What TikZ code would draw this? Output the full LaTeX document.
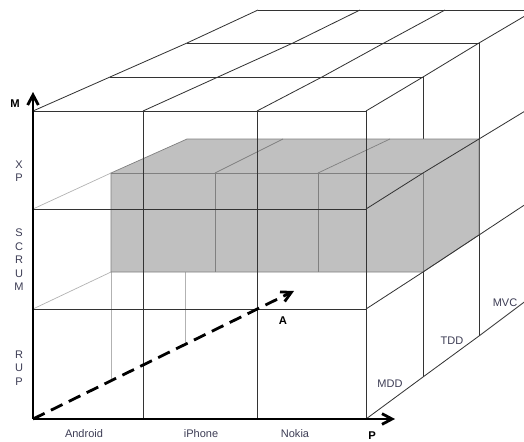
\documentclass[tikz,border=0pt]{standalone}
\usepackage{fontspec}
\setmainfont{Liberation Sans}
\usetikzlibrary{arrows.meta,positioning,calc}
\definecolor{slabgray}{RGB}{192,192,192}
\definecolor{labelgray}{RGB}{60,60,84}

\begin{document}
\begin{tikzpicture}[x=0.03cm,y=-0.03cm,
  grid/.style={black!80,line width=0.7pt},
  faint/.style={black!30,line width=0.6pt},
  slabline/.style={black!50,line width=0.6pt},
  axis/.style={line width=2.4pt,-{Straight Barb[length=3mm,width=3.2mm]}},
  lbl/.style={font=\fontsize{9.4}{11.5}\selectfont,text=labelgray,inner sep=0pt,align=center},
  axlbl/.style={font=\fontsize{9.6}{11.5}\selectfont\bfseries,inner sep=0pt}]
\useasboundingbox (0,0) rectangle (524,441);
\clip (0,0) rectangle (524,441);

\coordinate (O) at (33,419);
\coordinate (Mtop) at (33,92);
\coordinate (Pend) at (395,419);
\coordinate (Atip) at (294,291);

% top face
\draw[grid] (110,77) -- (423,77);
\draw[grid] (187,43) -- (479,43);
\draw[grid] (258,10) -- (535,10);
\draw[grid] (33,111) -- (110,77) -- (187,43) -- (258,10);
\draw[grid] (143,111) -- (218,77) -- (293,43) -- (360,10);
\draw[grid] (257,111) -- (322,77) -- (384,43) -- (445,10);
\draw[grid] (366,111) -- (423,77) -- (479,43) -- (535,10);

% right face
\draw[grid] (423,77) -- (423,377);
\draw[grid] (479,43) -- (479,336);
\draw[grid] (535,10) -- (535,294);

% faint lines behind the slab
\draw[faint] (33,209) -- (111,173);
\draw[faint] (33,309) -- (111,272);
\draw[faint] (111,272) -- (111,380);
\draw[faint] (185,272) -- (185,343);

% gray slab
\draw[slabline,fill=slabgray] (111,173) -- (187,139) -- (479,139) -- (479,235)
  -- (423,272) -- (111,272) -- cycle;
\draw[slabline] (111,173) -- (423,173) -- (423,272);
\draw[slabline] (215,173) -- (215,272);
\draw[slabline] (318,173) -- (318,272);
\draw[slabline] (215,173) -- (283,139);
\draw[slabline] (318,173) -- (390,139);

% right face rows
\draw[grid] (366,209) -- (423,173) -- (479,139) -- (535,105);
\draw[grid] (366,309) -- (423,272) -- (479,235) -- (535,198);
\draw[grid] (366,419) -- (423,377) -- (479,336) -- (535,294);

% front face
\draw[grid] (33,111) -- (366,111);
\draw[grid] (33,209) -- (366,209);
\draw[grid] (33,309) -- (366,309);
\draw[grid] (143,111) -- (143,419);
\draw[grid] (257,111) -- (257,419);
\draw[grid] (366,111) -- (366,419);

% axes
\draw[axis] (O) -- (Mtop);
\draw[axis] (O) -- (Pend);
\draw[axis,dash pattern=on 11pt off 6pt] (O) -- (Atip);

% labels
\node[axlbl] (mlabel) at (15,104) {M};
\node[axlbl] (plabel) at (372,435.5) {P};
\node[axlbl] (alabel) at (283,321) {A};
\node[lbl] (xp) at (19,171) {X\\P};
\node[lbl] (scrum) at (19,260) {S\\C\\R\\U\\M};
\node[lbl] (rup) at (19,368) {R\\U\\P};
\node[lbl] (android) at (84,434) {Android};
\node[lbl] (iphone) at (201,434) {iPhone};
\node[lbl] (nokia) at (295,434) {Nokia};
\node[lbl] (mdd) at (390,384) {MDD};
\node[lbl] (tdd) at (452,341) {TDD};
\node[lbl] (mvc) at (505,303) {MVC};
\end{tikzpicture}
\end{document}
